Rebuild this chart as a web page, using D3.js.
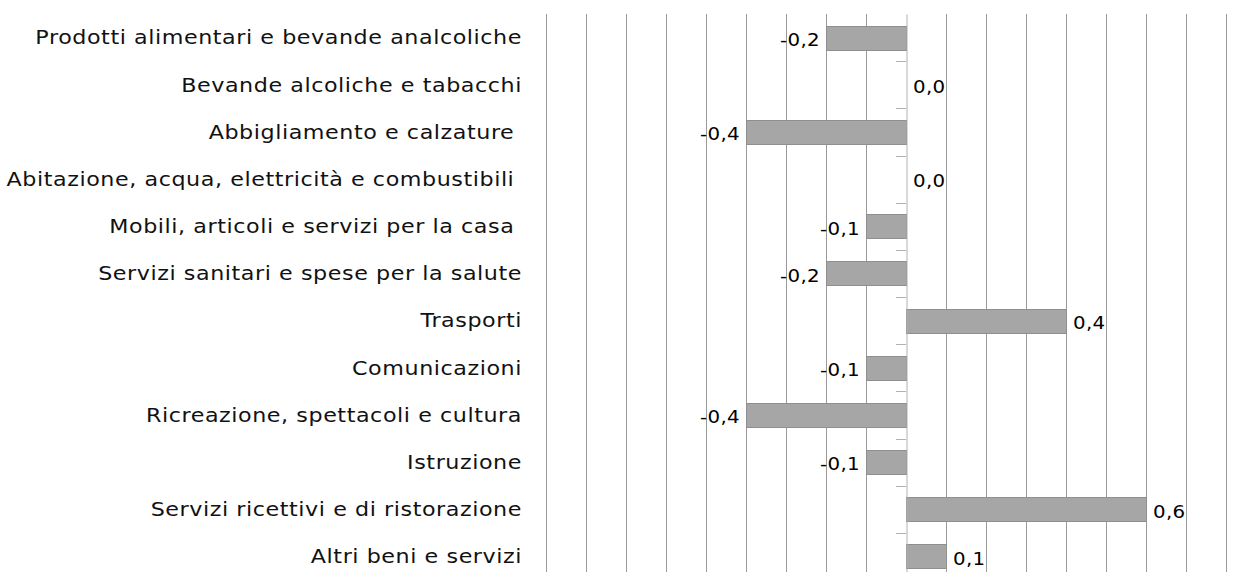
<!DOCTYPE html>
<html>
<head>
<meta charset="utf-8">
<script src="https://cdn.jsdelivr.net/npm/d3@7"></script>
<style>
  body { margin: 0; background: #fff; }
  text { font-family: "DejaVu Sans", sans-serif; }
</style>
</head>
<body>
<div id="chart"></div>
<script>
// categories and values (variazione, punti percentuali)
var categories = [
    "Prodotti alimentari e bevande analcoliche",
    "Bevande alcoliche e tabacchi",
    "Abbigliamento e calzature ",
    "Abitazione, acqua, elettricità e combustibili ",
    "Mobili, articoli e servizi per la casa ",
    "Servizi sanitari e spese per la salute",
    "Trasporti",
    "Comunicazioni",
    "Ricreazione, spettacoli e cultura",
    "Istruzione",
    "Servizi ricettivi e di ristorazione",
    "Altri beni e servizi"
];
var values = [-0.2, 0.0, -0.4, 0.0, -0.1, -0.2, 0.4, -0.1, -0.4, -0.1, 0.6, 0.1];
var gridTicks = [-0.9, -0.8, -0.7, -0.6, -0.5, -0.4, -0.3, -0.2, -0.1, 0.1, 0.2, 0.3, 0.4, 0.5, 0.6, 0.7, 0.8];

var svgWidth = 1258, svgHeight = 572;
var margin = { top: 14, left: 546, right: 32 };
var plotBottom = 580;

var svg = d3.select("#chart").append("svg")
    .attr("width", svgWidth)
    .attr("height", svgHeight);

var xScale = d3.scaleLinear()
    .domain([-0.9, 0.8])
    .range([margin.left, svgWidth - margin.right]);

var yScale = d3.scaleBand()
    .domain(categories)
    .range([margin.top, plotBottom])
    .paddingInner(0.49)
    .paddingOuter(0.245);

var fmt = function(v) { return d3.format(".1f")(v).replace(".", ",").replace("−", "-"); };

// vertical gridlines
svg.append("g")
    .selectAll("line")
    .data(gridTicks)
    .join("line")
    .attr("x1", d => Math.round(xScale(d)) + 0.5)
    .attr("x2", d => Math.round(xScale(d)) + 0.5)
    .attr("y1", margin.top)
    .attr("y2", plotBottom)
    .attr("stroke", "#9a9a9a")
    .attr("stroke-width", 1);

// bars
svg.append("g")
    .selectAll("rect")
    .data(values)
    .join("rect")
    .attr("x", d => Math.round(xScale(Math.min(0, d))) + 0.5)
    .attr("y", (d, i) => Math.round(yScale(categories[i])) + 0.5)
    .attr("width", d => Math.abs(xScale(d) - xScale(0)))
    .attr("height", Math.round(yScale.bandwidth()))
    .attr("fill", "#a6a6a6")
    .attr("stroke", "#8f8f8f")
    .attr("stroke-width", 1);

// category axis at zero
var yAxis = d3.axisLeft(yScale).tickSize(0).tickFormat("");
var axisG = svg.append("g")
    .attr("transform", `translate(${Math.round(xScale(0)) + 0.5},0)`)
    .call(yAxis);
axisG.select(".domain").attr("stroke", "#b0b0b0");

// tick marks between categories
var step = yScale.step();
svg.append("g")
    .selectAll("line")
    .data(d3.range(1, categories.length))
    .join("line")
    .attr("x1", Math.round(xScale(0)) - 10)
    .attr("x2", Math.round(xScale(0)))
    .attr("y1", d => Math.round(margin.top + d * step) + 0.5)
    .attr("y2", d => Math.round(margin.top + d * step) + 0.5)
    .attr("stroke", "#b0b0b0");

// category labels (font stretched horizontally like the original)
svg.append("g")
    .selectAll("text")
    .data(categories)
    .join("text")
    .attr("transform", d => `translate(522, ${yScale(d) + yScale.bandwidth() / 2}) scale(1.14, 1)`)
    .attr("dy", "0.35em")
    .attr("text-anchor", "end")
    .attr("font-size", 19.5)
    .attr("letter-spacing", 0.5)
    .attr("fill", "#111")
    .style("white-space", "pre")
    .text(d => d);

// value labels
svg.append("g")
    .selectAll("text")
    .data(values)
    .join("text")
    .attr("transform", (d, i) => `translate(${d < 0 ? xScale(d) - 6 : xScale(d) + 7}, ${yScale(categories[i]) + yScale.bandwidth() / 2 + 2}) scale(1.1, 1)`)
    .attr("dy", "0.35em")
    .attr("text-anchor", d => d < 0 ? "end" : "start")
    .attr("font-size", 18)
    .attr("letter-spacing", 0.3)
    .attr("fill", "#000")
    .text(d => fmt(d));
</script>
</body>
</html>
